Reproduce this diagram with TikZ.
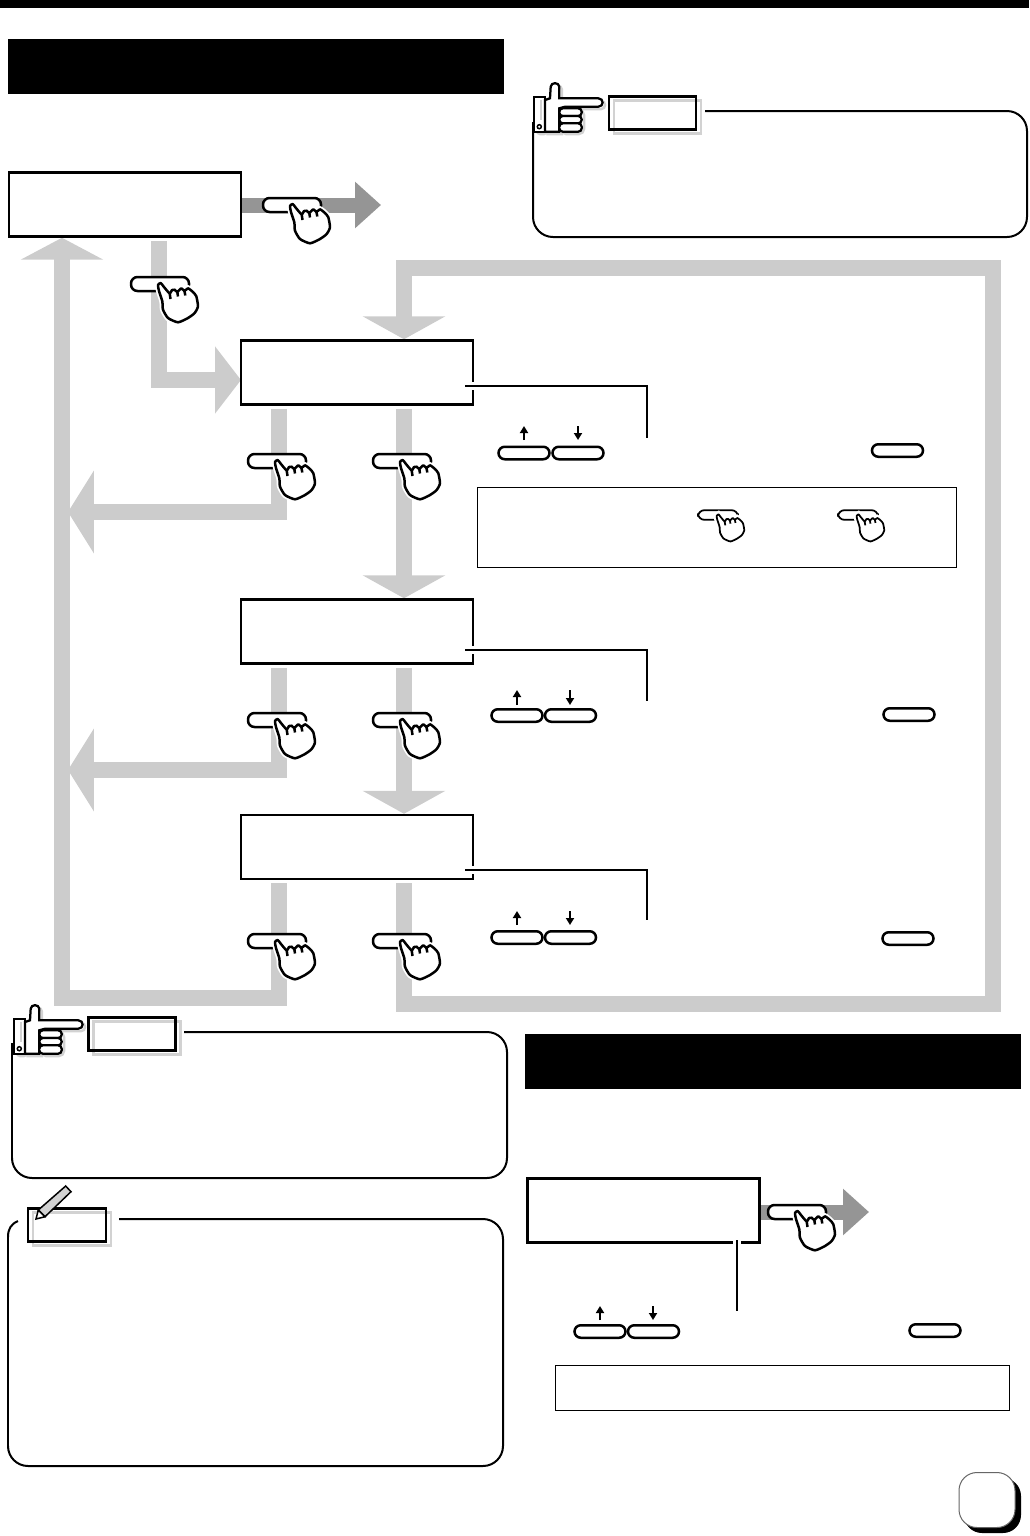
\documentclass[tikz,border=0pt]{standalone}
\usetikzlibrary{arrows.meta,shapes.misc,backgrounds}
\definecolor{flowgrey}{HTML}{CCCCCC}
\definecolor{exitgrey}{HTML}{959595}
\definecolor{shadegrey}{HTML}{D2D2D2}
\newcommand{\pointerhand}{(11,3) -- (16,1.3) -- (16.7,-10.3)
  .. controls (17,-15) and (25,-15) .. (25.3,-10.3) -- (25.3,1.3) -- (64.3,1.3)
  .. controls (70,1.3) and (70,9.7) .. (64.3,9.7) -- (31,9.7) -- (25.3,11.3)
  -- (25.3,34.7) -- (11,34.7) -- cycle}
\tikzset{
  lcdbox/.style={draw,fill=white,line width=.05cm,minimum width=4.64cm,minimum height=1.28cm,inner sep=0pt},
  banner/.style={fill=black,minimum width=9.92cm,minimum height=1.1cm,inner sep=0pt},
  infobox/.style={draw,line width=.02cm,inner sep=0pt},
  keypill/.style={draw,fill=white,rounded rectangle,line width=.05cm,minimum width=1.02cm,minimum height=.25cm,inner sep=0pt},
  tagbox/.style={draw,line width=.055cm,inner sep=0pt,minimum height=.66cm},
  tagshade/.style={draw=shadegrey,line width=.05cm,inner sep=0pt,minimum height=.66cm},
  callout/.style={line width=.04cm,rounded corners=.4cm},
  leader/.style={line width=.04cm,preaction={draw=white,line width=.16cm}},
  flow/.style={draw=flowgrey,line width=.32cm,shorten <=.06cm},
  exitflow/.style={draw=exitgrey,line width=.3cm,-{Triangle[length=.52cm,width=.9cm]}},
  tipdown/.style={-{Triangle[length=.46cm,width=1.64cm]}},
  tipup/.style={-{Triangle[length=.44cm,width=1.64cm]}},
  tipleft/.style={-{Triangle[length=.52cm,width=1.64cm]}},
  tipin/.style={-{Triangle[length=.52cm,width=1.32cm]}},
  keyarrow/.style={line width=.05cm,-{Triangle[length=.14cm,width=.16cm]}},
  press/.pic={
    \draw[fill=white,rounded corners=.13cm] (0,-7) -- (58,-7) -- (58,7) -- (0,7) -- cycle;
    \draw[fill=white,preaction={draw=white,line width=.12cm},line join=round]
      plot[smooth cycle,tension=.35] coordinates {(27,1) (29.7,-1) (33,3) (38.7,9.5) (41,6) (43.7,5.7)
        (46.3,8) (50.3,4.3) (53.5,7) (57,4.3) (62,8) (65.3,12.3) (67,22.3) (63.7,29) (57,34) (47,38.3)
        (37,34) (32,25.7) (31.3,17.3) (28,7)};
    \draw (38.7,9.5) -- (39.5,15);
    \draw (46.3,8) -- (47,12.5);
    \draw (53.5,7) -- (54.3,11.5);
  },
  pointer/.pic={
    \draw[shadegrey,line width=.05cm,rounded corners=.06cm] (3,3) rectangle (13,37);
    \draw[shadegrey,line width=.05cm,shift={(2.5,2.5)}] \pointerhand;
    \draw[shadegrey,line width=.05cm,rounded corners=.1cm] (27,13) rectangle (50,37);
    \draw[fill=white,line width=.045cm] (0,0) rectangle (11,35);
    \draw[shadegrey,line width=.04cm] (7,3) -- (7,23);
    \draw[line width=.03cm] (5.3,29.7) circle (.04cm);
    \draw[fill=white,line width=.045cm] \pointerhand;
    \draw[fill=white,line width=.045cm,rounded corners=.07cm] (25.3,11.3) rectangle (47.7,19);
    \draw[fill=white,line width=.045cm,rounded corners=.07cm] (25.3,19) rectangle (47.7,26.3);
    \draw[fill=white,line width=.045cm,rounded corners=.07cm] (25.3,26.3) rectangle (47.7,34.7);
  }
}
\begin{document}
\begin{tikzpicture}[x=.02cm,y=-.02cm]
  \useasboundingbox (0,0) rectangle (1029,1536);
  \fill (0,0) rectangle (1029,8);
  \node (bannerA) [banner] at (256,66.5) {};
  \node (bannerB) [banner] at (773,1061.5) {};

  \node (boxA) [lcdbox] at (125,204.5) {};
  \node (boxB) [lcdbox] at (357,372.5) {};
  \node (boxC) [lcdbox] at (357,631.5) {};
  \node (boxD) [lcdbox] at (357,847) {};
  \node (boxE) [lcdbox] at (643.5,1210.5) {};

  \coordinate (midx) at (404,0);
  \coordinate (sidex) at (279,0);
  \coordinate (enterx) at (159,0);
  \coordinate (enterB) at (241,380);
  \coordinate (backB) at (68,512);
  \coordinate (backC) at (68,770);
  \coordinate (loopL) at (62,998);
  \coordinate (loopB) at (993,1004);
  \coordinate (loopT) at (993,268);
  \coordinate (exitA) at (381,205);
  \coordinate (exitE) at (869,1212);

  \begin{pgfonlayer}{background}
    \draw [flow,tipdown] (midx |- boxB.south) -- (midx |- boxC.north);
    \draw [flow,tipdown] (midx |- boxC.south) -- (midx |- boxD.north);
    \draw [flow,tipdown] (midx |- boxD.south) |- (loopB) -- (loopT) -| (midx |- boxB.north);
    \draw [flow,tipleft] (sidex |- boxB.south) |- (backB);
    \draw [flow,tipleft] (sidex |- boxC.south) |- (backC);
    \draw [flow,tipup] (sidex |- boxD.south) |- (loopL) -- (loopL |- boxA.south);
    \draw [flow,tipin] (enterx |- boxA.south) |- (enterB);
    \draw [exitflow] (boxA.east |- exitA) -- (exitA);
    \draw [exitflow] (boxE.east |- exitE) -- (exitE);
  \end{pgfonlayer}

  \pic [line width=.05cm] at (263,205) {press};
  \pic [line width=.05cm] at (131,284) {press};
  \pic [line width=.05cm] at (248,461) {press};
  \pic [line width=.05cm] at (373,461) {press};
  \pic [line width=.05cm] at (248,720) {press};
  \pic [line width=.05cm] at (373,720) {press};
  \pic [line width=.05cm] at (248,941) {press};
  \pic [line width=.05cm] at (373,941) {press};
  \pic [line width=.05cm] at (768,1212) {press};

  \coordinate (leadB) at (647,438);
  \coordinate (leadC) at (647,701);
  \coordinate (leadD) at (647,920);
  \coordinate (leadE) at (737,1311);
  \draw [leader] (465,386) -| (leadB);
  \draw [leader] (465,650) -| (leadC);
  \draw [leader] (465,870) -| (leadD);
  \draw [leader] (737,1240) -- (leadE);

  \node (upB) [keypill] at (524,453) {};
  \node (downB) [keypill] at (578,453) {};
  \node (setB) [keypill] at (897.5,450.5) {};
  \draw [keyarrow] (524,440) -- (524,426);
  \draw [keyarrow] (578,426) -- (578,440);
  \node (upC) [keypill] at (517,715.5) {};
  \node (downC) [keypill] at (570.5,715.5) {};
  \node (setC) [keypill] at (909,714.5) {};
  \draw [keyarrow] (517,705) -- (517,690);
  \draw [keyarrow] (570,690) -- (570,705);
  \node (upD) [keypill] at (517,937.5) {};
  \node (downD) [keypill] at (570.5,937.5) {};
  \node (setD) [keypill] at (908,938.5) {};
  \draw [keyarrow] (517,925) -- (517,911);
  \draw [keyarrow] (570,911) -- (570,925);
  \node (upE) [keypill] at (600,1331.5) {};
  \node (downE) [keypill] at (653.5,1331.5) {};
  \node (setE) [keypill] at (935,1330.5) {};
  \draw [keyarrow] (600,1320) -- (600,1306);
  \draw [keyarrow] (653,1306) -- (653,1320);

  \node (infoA) [infobox,minimum width=9.6cm,minimum height=1.6cm] at (717,527) {};
  \node (infoB) [infobox,minimum width=9.1cm,minimum height=.9cm] at (782.5,1387.5) {};
  \pic [scale=.69,line width=.035cm] at (698,515) {press};
  \pic [scale=.69,line width=.035cm] at (838,515) {press};

  \draw [callout] (705,111) -- (1027,111) -- (1027,237) -- (533,237) -- (533,122);
  \draw [callout] (184,1032) -- (507,1032) -- (507,1178) -- (12,1178) -- (12,1043);
  \draw [callout] (119,1219) -- (503,1219) -- (503,1466) -- (8,1466) -- (8,1237);
  \draw [line width=.04cm] (8,1237) .. controls (8,1229) and (11,1224) .. (18,1221);

  \pic at (534,97) {pointer};
  \pic at (14,1019) {pointer};
  \node (shadeA) [tagshade,minimum width=1.74cm] at (657.5,117) {};
  \node (tagA) [tagbox,minimum width=1.74cm] at (652.5,113) {};
  \node (shadeB) [tagshade,minimum width=1.74cm] at (137,1038) {};
  \node (tagB) [tagbox,minimum width=1.74cm] at (132,1034) {};
  \node (shadeC) [tagshade,minimum width=1.56cm] at (72,1229) {};
  \node (tagC) [tagbox,minimum width=1.56cm] at (67,1225) {};
  \draw [fill=shadegrey,line width=.03cm] (38.3,1210) -- (65.7,1186) -- (71,1191.7) -- (45,1216.7) -- cycle;
  \draw [fill=white,line width=.03cm] (38.3,1210) -- (36,1219) -- (45,1216.7) -- cycle;

  \fill [rounded corners=.36cm] (964,1478) rectangle (1021,1533);
  \node (pageno) [draw=black!60,fill=white,line width=.02cm,rounded corners=.36cm,minimum width=1.12cm,minimum height=1.1cm,inner sep=0pt] at (987,1500) {};
\end{tikzpicture}
\end{document}
